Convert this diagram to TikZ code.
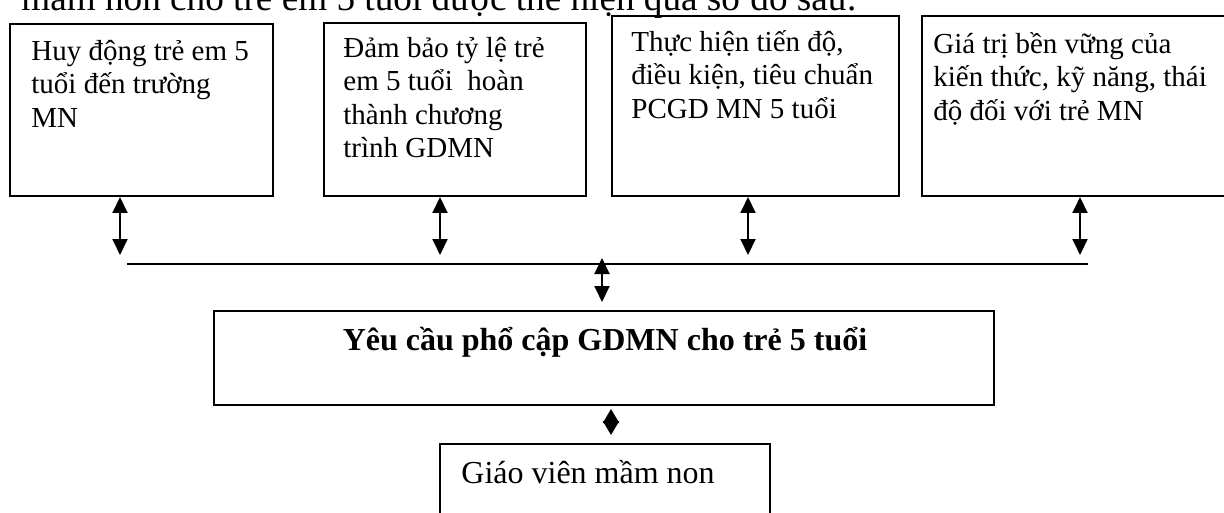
\documentclass[tikz,border=0pt]{standalone}
\usepackage{fontspec}
\setmainfont{Liberation Serif}
\usepackage{tikz}
\usetikzlibrary{arrows.meta}
\tikzstyle{box} = [draw,line width=1pt,inner sep=0pt,anchor=north west]
\tikzstyle{boxtext} = [inner sep=0pt,anchor=north west,align=left,font=\fontsize{14.5}{16.75}\selectfont]
\tikzstyle{dblarrow} = [line width=1pt,<->,>={Triangle[length=8pt,width=7.5pt]}]

\begin{document}
\begin{tikzpicture}[x=0.5pt,y=-0.5pt]
\useasboundingbox (0,0) rectangle (1224,513);
\fill[white] (0,0) rectangle (1224,513);
\clip (0,0) rectangle (1224,513);

\node[anchor=base west,inner sep=0pt,font=\fontsize{18.6}{21}\selectfont] (tieude) at (21,11)
{mầm non cho trẻ em 5 tuổi được thể hiện qua sơ đồ sau:};

% four boxes on top
\node[box,minimum width=131.5pt,minimum height=86pt] (huydong) at (9,23) {};
\node[box,minimum width=131pt,minimum height=86.5pt] (dambao) at (323,22) {};
\node[box,minimum width=143.5pt,minimum height=90pt] (thuchien) at (611,15) {};
\node[box,minimum width=160pt,minimum height=90pt] (giatri) at (921,15) {};

\node[boxtext] (huydongtext) at (31,30) {\rule{0pt}{15pt}Huy động trẻ em 5\\tuổi đến trường\\MN};
\node[boxtext] (dambaotext) at (343,27) {\rule{0pt}{15pt}Đảm bảo tỷ lệ trẻ\\em 5 tuổi \ hoàn\\thành chương\\trình GDMN};
\node[boxtext] (thuchientext) at (631,21) {\rule{0pt}{15pt}Thực hiện tiến độ,\\điều kiện, tiêu chuẩn\\PCGD MN 5 tuổi};
\node[boxtext] (giatritext) at (933,23) {\rule{0pt}{15pt}Giá trị bền vững của\\kiến thức, kỹ năng, thái\\độ đối với trẻ MN};

% arrows down to the bus line
\foreach \b/\x in {huydong/120,dambao/440,thuchien/748,giatri/1080}
{
\coordinate (j\b) at (\x,255);
\draw[dblarrow] (\b.south -| j\b) -- (j\b);
}

\coordinate (busL) at (127,264);
\coordinate (busR) at (1088,264);
\draw[line width=1pt] (busL) -- (busR);

% main box
\node[box,minimum width=390pt,minimum height=47pt] (yeucau) at (213,310) {};
\node[anchor=base,inner sep=0pt,font=\fontsize{16}{18}\selectfont] (yeucautext) at (605,350)
{\textbf{Yêu cầu phổ cập GDMN cho trẻ 5 tuổi}};

\coordinate (m1) at (602,258);
\draw[dblarrow,shorten >=4pt] (m1) -- (yeucau.north -| m1);

% bottom box
\node[box,minimum width=165pt,minimum height=60pt] (giaovien) at (439,443) {};
\node[anchor=base west,inner sep=0pt,font=\fontsize{16}{18}\selectfont] (giaovientext) at (461,483)
{Giáo viên mầm non};

\coordinate (d1) at (611,420);
\draw[dblarrow,>={Triangle[length=7pt,width=8pt]},shorten <=1.5pt,shorten >=4pt]
(yeucau.south -| d1) -- (giaovien.north -| d1);

\end{tikzpicture}
\end{document}
